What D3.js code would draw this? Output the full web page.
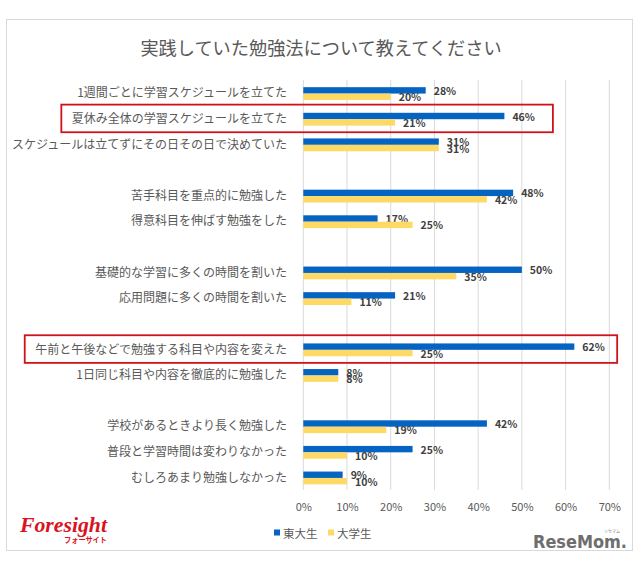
<!DOCTYPE html>
<html><head><meta charset="utf-8">
<script src="https://cdn.jsdelivr.net/npm/d3@7/dist/d3.min.js"></script>
<style>
html,body{margin:0;padding:0;background:#fff;}
svg{display:block;}
</style></head>
<body>
<svg id="chart" width="640" height="566"></svg>
<script>
const title = "実践していた勉強法について教えてください";
const categories = [
  "1週間ごとに学習スケジュールを立てた",
  "夏休み全体の学習スケジュールを立てた",
  "スケジュールは立てずにその日その日で決めていた",
  "",
  "苦手科目を重点的に勉強した",
  "得意科目を伸ばす勉強をした",
  "",
  "基礎的な学習に多くの時間を割いた",
  "応用問題に多くの時間を割いた",
  "",
  "午前と午後などで勉強する科目や内容を変えた",
  "1日同じ科目や内容を徹底的に勉強した",
  "",
  "学校があるときより長く勉強した",
  "普段と学習時間は変わりなかった",
  "むしろあまり勉強しなかった"
];
const seriesNames = ["東大生", "大学生"];
const todaiValues   = [28, 46, 31, null, 48, 17, null, 50, 21, null, 62, 8, null, 42, 25, 9];
const daigakuValues = [20, 21, 31, null, 42, 25, null, 35, 11, null, 25, 8, null, 19, 10, 10];
const xTicks = [0, 10, 20, 30, 40, 50, 60, 70];
const highlightRows = [1, 10];
const highlightRight = [57.1, 71.8];

const colors = ["#0563c1", "#ffd966"];
const jp = "'Noto Sans CJK JP','Noto Sans',sans-serif";

const svg = d3.select("#chart");

// frame
svg.append("rect").attr("x", 6.5).attr("y", 19.5).attr("width", 626).attr("height", 531)
  .attr("fill", "#fff").attr("stroke", "#d9d9d9").attr("stroke-width", 1);

svg.append("text").attr("x", 321).attr("y", 47).attr("text-anchor", "middle")
  .attr("dominant-baseline", "central")
  .style("font-family", jp).style("font-size", "18.2px").style("fill", "#595959")
  .text(title);

const x = d3.scaleLinear().domain([0, 70]).range([303.3, 609.3]);
const y = d3.scaleBand().domain(d3.range(categories.length)).range([80, 490]).padding(0);
const bw = y.bandwidth();
const ys = d3.scaleBand().domain([0, 1]).range([bw * 0.28, bw * 0.78]).padding(0);

// gridlines
svg.append("g").selectAll("line").data(xTicks).join("line")
  .attr("x1", d => x(d)).attr("x2", d => x(d))
  .attr("y1", 80).attr("y2", 490)
  .attr("stroke", "#d9d9d9").attr("stroke-width", 1);

// x axis labels
const xAxis = d3.axisBottom(x).tickValues(xTicks).tickSize(0).tickPadding(0)
  .tickFormat(d => d + "%");
const gx = svg.append("g").attr("transform", "translate(0,507)").call(xAxis);
gx.select(".domain").remove();
gx.selectAll("text").attr("dy", "0.35em")
  .style("font-family", jp).style("font-size", "11px").style("fill", "#595959");

// category labels
svg.append("g").selectAll("text").data(categories).join("text")
  .attr("class", "cat")
  .attr("x", 287).attr("y", (d, i) => y(i) + bw / 2 - 1)
  .attr("text-anchor", "end").attr("dominant-baseline", "central")
  .style("font-family", jp).style("font-size", "12px").style("fill", "#595959")
  .text(d => d);

const seriesData = [todaiValues, daigakuValues];
seriesData.forEach((vals, s) => {
  const rows = vals.map((v, i) => ({v, i})).filter(d => d.v !== null);
  svg.append("g").selectAll("rect").data(rows).join("rect")
    .attr("x", x(0)).attr("y", d => y(d.i) + ys(s))
    .attr("width", d => x(d.v) - x(0)).attr("height", ys.bandwidth())
    .attr("fill", colors[s]);
  svg.append("g").selectAll("text").data(rows).join("text")
    .attr("x", d => x(d.v) + 8).attr("y", d => y(d.i) + ys(s) + ys.bandwidth() / 2)
    .attr("dominant-baseline", "central")
    .style("font-family", jp).style("font-size", "10.5px").style("font-weight", "600")
    .style("fill", "#404040")
    .text(d => d.v + "%");
});

// highlight boxes
const catNodes = svg.selectAll("text.cat").nodes();
highlightRows.forEach((r, k) => {
  const bb = catNodes[r].getBBox();
  const left = bb.x - 10.5;
  const right = x(highlightRight[k]);
  svg.append("rect").attr("x", left).attr("y", y(r) - 1)
    .attr("width", right - left).attr("height", bw + 2)
    .attr("fill", "none").attr("stroke", "#d0121b").attr("stroke-width", 1.8);
});

// legend
const legX = [274, 328];
seriesNames.forEach((n, i) => {
  svg.append("rect").attr("x", legX[i]).attr("y", 529.5).attr("width", 6).attr("height", 6)
    .attr("fill", colors[i]);
  svg.append("text").attr("x", legX[i] + 9).attr("y", 532.5).attr("dominant-baseline", "central")
    .style("font-family", jp).style("font-size", "11.5px").style("fill", "#595959")
    .text(n);
});

// Foresight logo
svg.append("text").attr("x", 20).attr("y", 531.5)
  .attr("textLength", 87).attr("lengthAdjust", "spacingAndGlyphs")
  .style("font-family", "'Liberation Serif','DejaVu Serif',serif").style("font-size", "20px")
  .style("font-style", "italic").style("font-weight", "bold").style("fill", "#d7141f")
  .text("Foresight");
svg.append("text").attr("x", 107).attr("y", 542.5).attr("text-anchor", "end")
  .attr("textLength", 43).attr("lengthAdjust", "spacingAndGlyphs")
  .style("font-family", jp).style("font-size", "7.5px").style("font-weight", "bold")
  .style("fill", "#d7141f").text("フォーサイト");

// ReseMom logo
svg.append("text").attr("x", 533).attr("y", 547.5)
  .attr("textLength", 94).attr("lengthAdjust", "spacingAndGlyphs")
  .style("font-family", "'DejaVu Sans Condensed','DejaVu Sans',sans-serif").style("font-size", "17.5px")
  .style("font-weight", "bold").style("fill", "#6e6e6e")
  .text("ReseMom.");
svg.append("text").attr("x", 620).attr("y", 533).attr("text-anchor", "end")
  .style("font-family", jp).style("font-size", "4px").style("fill", "#888")
  .text("リセマム");
</script>
</body></html>
